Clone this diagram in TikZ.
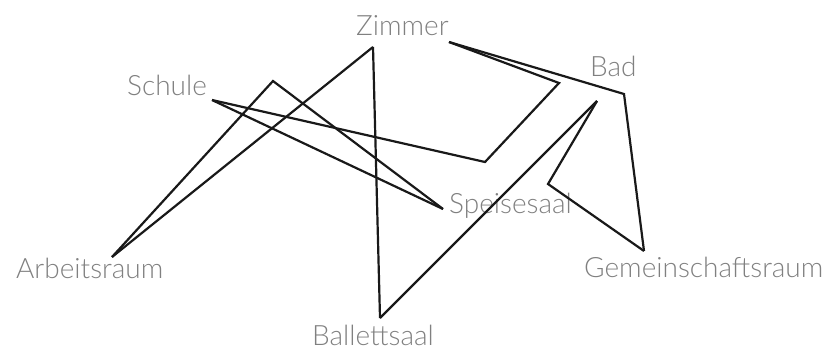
\documentclass[tikz,border=0pt]{standalone}
\usepackage{fontspec}
\IfFontExistsTF{Lato Light}{\setmainfont{Lato Light}}{\setmainfont{Lato}}
\usepackage{tikz}
\colorlet{labelcol}{black!50}
\colorlet{linkcol}{black!90}
\tikzset{
  room/.style={anchor=base west, inner sep=0pt, text=labelcol,
    font=\fontsize{28}{30}\selectfont},
  link/.style={line width=2.2pt, linkcol, line join=miter}
}

\begin{document}
\begin{tikzpicture}[x=1pt, y=-1pt]

  % Page frame.
  \useasboundingbox (0,0) rectangle (840,349);

  % Room labels.
  \node[room] (zimmer)   at (356,35)  {Zimmer};
  \node[room] (schule)   at (127,95)  {Schule};
  \node[room] (bad)      at (590,76)  {Bad};
  \node[room] (speise)   at (449,213) {Speisesaal};
  \node[room] (gemein)   at (584,277) {Gemeinschaftsraum};
  \node[room] (arbeit)   at (16,278)  {Arbeitsraum};
  \node[room] (ballett)  at (312,345) {Ballettsaal};

  % Ports where the links end.
  \coordinate (zimmer-a)  at (373,47);
  \coordinate (zimmer-b)  at (449,42);
  \coordinate (schule-p)  at (212,100);
  \coordinate (bad-p)     at (597,101);
  \coordinate (speise-p)  at (443,209);
  \coordinate (gemein-p)  at (644,251);
  \coordinate (arbeit-p)  at (112,257);
  \coordinate (ballett-p) at (380,318);

  % Links, with their bends.
  \draw[link] (schule-p) -- (485,162) -- (559,83) -- (zimmer-b);
  \draw[link] (zimmer-b) -- (624,94) -- (gemein-p);
  \draw[link] (gemein-p) -- (548,184) -- (bad-p);
  \draw[link] (bad-p) -- (ballett-p);
  \draw[link] (ballett-p) -- (zimmer-a);
  \draw[link] (zimmer-a) -- (arbeit-p);
  \draw[link] (arbeit-p) -- (273,81) -- (speise-p);
  \draw[link] (speise-p) -- (schule-p);

\end{tikzpicture}
\end{document}
